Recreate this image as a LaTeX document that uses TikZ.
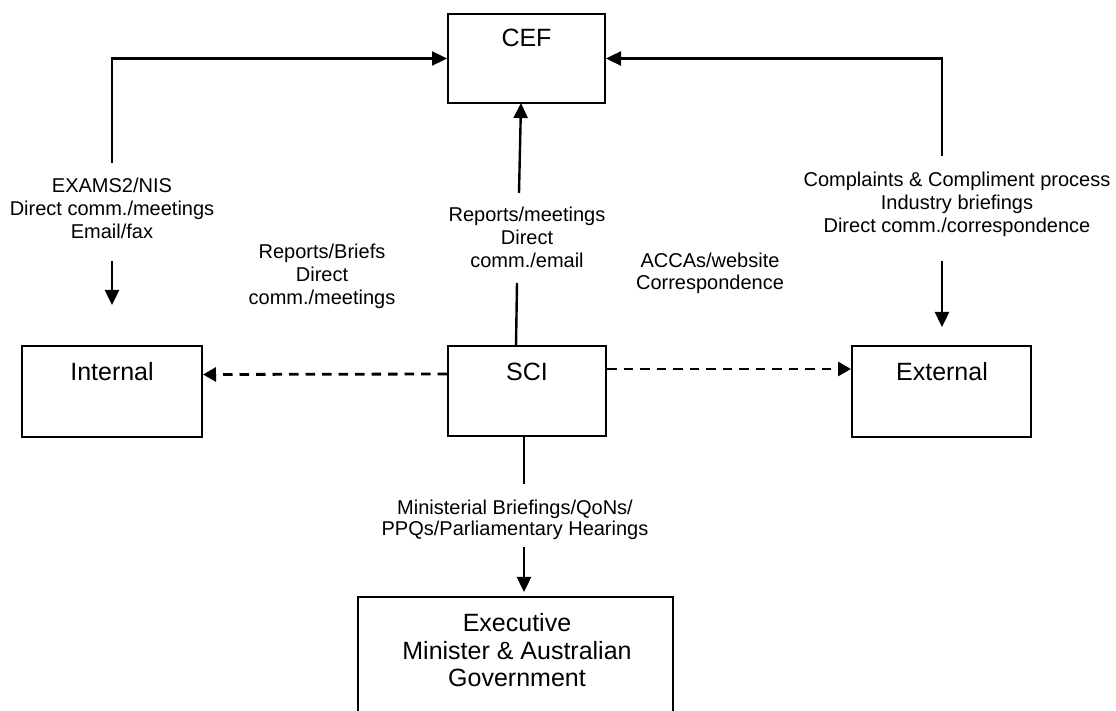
\documentclass[tikz,border=0pt]{standalone}
\usepackage{fontspec}
\setmainfont{Liberation Sans}
\usetikzlibrary{arrows.meta}
\begin{document}
\begin{tikzpicture}[x=0.5pt,y=-0.5pt,
  box/.style={draw, line width=1pt, inner sep=0pt},
  boxtext/.style={inner sep=0pt, font=\fontsize{12.5}{13.75}\selectfont, align=center},
  lbl/.style={inner sep=0pt, anchor=north, align=center, font=\fontsize{10}{11.5}\selectfont},
  arr/.style={line width=1.2pt, -{Triangle[length=7.5pt,width=7pt]}},
  plain/.style={line width=1.2pt},
  darr/.style={line width=1.4pt, dash pattern=on 4.75pt off 3.5pt, -{Triangle[length=6.5pt,width=7pt]}}]
\clip (0,0) rectangle (1116,711);
\fill[white] (0,0) rectangle (1116,711);
% boxes
\node[box, minimum width=78.5pt, minimum height=44.5pt] (cef) at (526.5,58.5) {};
\node[box, minimum width=79pt, minimum height=45pt] (sci) at (527,391) {};
\node[box, minimum width=90pt, minimum height=45.5pt] (int) at (112,391.5) {};
\node[box, minimum width=89.5pt, minimum height=45.5pt] (ext) at (941.5,391.5) {};
\node[box, minimum width=157.5pt, minimum height=81.5pt] (exe) at (515.5,678.5) {};
% box texts
\node[boxtext] (tcef) at (526.5,38) {CEF};
\node[boxtext] (tsci) at (527,372) {SCI};
\node[boxtext] (tint) at (112,372) {Internal};
\node[boxtext] (text) at (942,372) {External};
\node[boxtext, anchor=north] (texe) at (517,613) {Executive\\Minister \& Australian\\Government};
% labels
\node[lbl] (lleft) at (112,178) {EXAMS2/NIS\\Direct comm./meetings\\Email/fax};
\node[lbl] (lbrief) at (322,244) {Reports/Briefs\\Direct\\comm./meetings};
\node[lbl] (lmid) at (527,207) {Reports/meetings\\Direct\\comm./email};
\node[lbl, font=\fontsize{10}{11}\selectfont] (lacca) at (710,253) {ACCAs/website\\Correspondence};
\node[lbl] (lright) at (957,171.5) {Complaints \& Compliment process\\Industry briefings\\Direct comm./correspondence};
\node[lbl, font=\fontsize{10}{10.5}\selectfont] (lmin) at (515,500) {Ministerial Briefings/QoNs/\\PPQs/Parliamentary Hearings};
% connector coordinates
\coordinate (lt) at (112,163);
\coordinate (l1) at (112,261);
\coordinate (l2) at (112,305);
\coordinate (rt) at (942,156);
\coordinate (r1) at (942,261);
\coordinate (r2) at (942,327);
\coordinate (m0) at (516,346);
\coordinate (m1) at (517,283);
\coordinate (m2) at (519,193);
\coordinate (m3) at (521,103);
\coordinate (d0) at (524,436);
\coordinate (d1) at (524,484);
\coordinate (d2) at (524,547);
\coordinate (d3) at (524,592);
% connectors
\draw[arr] (lt) |- (cef.west);
\draw[arr] (l1) -- (l2);
\draw[arr] (rt) |- (cef.east);
\draw[arr] (r1) -- (r2);
\draw[plain] (m0) -- (m1);
\draw[arr] (m2) -- (m3);
\draw[plain] (d0) -- (d1);
\draw[arr] (d2) -- (d3);
\draw[darr] ([yshift=8.5pt]sci.west) -- ([yshift=8.5pt]int.east);
\draw[darr] ([yshift=11pt]sci.east) -- ([yshift=11.25pt]ext.west);
\end{tikzpicture}
\end{document}
